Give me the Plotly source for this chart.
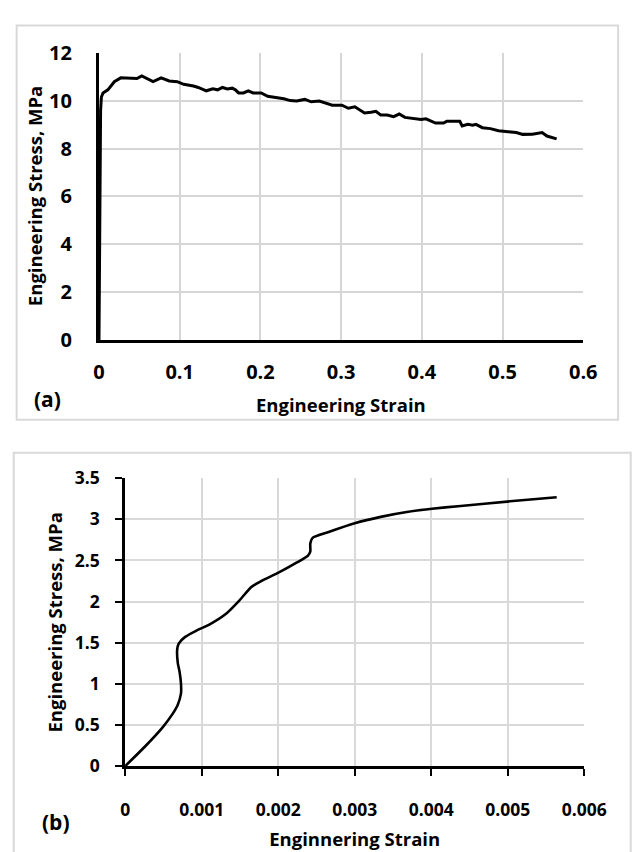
import plotly.graph_objects as go

# (a) full tensile curve
strain_a = [0.0, 0.001, 0.002, 0.003, 0.005, 0.011, 0.019, 0.027, 0.041, 0.047, 0.053,
            0.059, 0.067, 0.077, 0.087, 0.097, 0.105, 0.117, 0.123, 0.133, 0.141,
            0.147, 0.153, 0.159, 0.165, 0.169, 0.173, 0.179, 0.185, 0.191, 0.201,
            0.209, 0.219, 0.229, 0.237, 0.245, 0.255, 0.263, 0.273, 0.281, 0.289,
            0.301, 0.309, 0.317, 0.323, 0.329, 0.337, 0.343, 0.349, 0.357, 0.365,
            0.372, 0.379, 0.389, 0.399, 0.405, 0.417, 0.427, 0.431, 0.447, 0.450,
            0.457, 0.463, 0.467, 0.475, 0.485, 0.495, 0.507, 0.517, 0.525, 0.537,
            0.549, 0.555, 0.567]
stress_a = [0.0, 7.5, 9.6, 10.15, 10.32, 10.45, 10.79, 10.95, 10.95, 10.92, 11.03,
            10.92, 10.79, 10.95, 10.82, 10.79, 10.68, 10.61, 10.55, 10.41, 10.49,
            10.45, 10.55, 10.49, 10.52, 10.45, 10.32, 10.32, 10.41, 10.32, 10.32,
            10.18, 10.14, 10.08, 10.0, 9.98, 10.05, 9.95, 9.98, 9.91, 9.81,
            9.81, 9.68, 9.74, 9.60, 9.48, 9.51, 9.55, 9.40, 9.40, 9.33,
            9.44, 9.30, 9.24, 9.21, 9.24, 9.06, 9.06, 9.14, 9.14, 8.94,
            9.01, 8.97, 9.01, 8.87, 8.83, 8.74, 8.70, 8.67, 8.59, 8.60,
            8.67, 8.52, 8.40]

# (b) initial region of the curve
strain_b = [0.0, 0.000257, 0.00049, 0.000616, 0.000688, 0.00073, 0.00073, 0.000713,
            0.000688, 0.00068, 0.0007, 0.000785, 0.000933, 0.0011, 0.00131, 0.00148,
            0.00165, 0.00178, 0.00201, 0.00224, 0.00239, 0.00242, 0.00242, 0.00245,
            0.00266, 0.003, 0.00334, 0.00368, 0.00401, 0.00435, 0.00503, 0.00564]
stress_b = [0.0, 0.236, 0.472, 0.629, 0.747, 0.884, 1.0, 1.139,
            1.256, 1.413, 1.49, 1.571, 1.648, 1.72, 1.845, 2.0,
            2.178, 2.25, 2.354, 2.472, 2.559, 2.609, 2.707, 2.774,
            2.845, 2.951, 3.029, 3.088, 3.127, 3.159, 3.218, 3.268]

xticks_a = [0, 0.1, 0.2, 0.3, 0.4, 0.5, 0.6]
xlabels_a = ["0", "0.1", "0.2", "0.3", "0.4", "0.5", "0.6"]
yticks_a = [0, 2, 4, 6, 8, 10, 12]
ylabels_a = ["0", "2", "4", "6", "8", "10", "12"]
xticks_b = [0, 0.001, 0.002, 0.003, 0.004, 0.005, 0.006]
xlabels_b = ["0", "0.001", "0.002", "0.003", "0.004", "0.005", "0.006"]
yticks_b = [0, 0.5, 1, 1.5, 2, 2.5, 3, 3.5]
ylabels_b = ["0", "0.5", "1", "1.5", "2", "2.5", "3", "3.5"]

W, H = 636, 852
FONT = "Open Sans"
tick_font = dict(family=FONT, size=20, color="#000000", weight="bold")
tick_font_b = dict(family=FONT, size=17.5, color="#000000", weight="bold")
title_font = dict(family=FONT, size=18.5, color="#000000", weight="bold")
panel_font = dict(family=FONT, size=21, color="#000000", weight="bold")


def px_x(x):
    return x / W


def px_y(y):
    return 1 - y / H


fig = go.Figure()
fig.add_trace(go.Scatter(x=strain_a, y=stress_a, mode="lines",
                         line=dict(color="#000000", width=3),
                         xaxis="x", yaxis="y", showlegend=False))
fig.add_trace(go.Scatter(x=strain_b, y=stress_b, mode="lines",
                         line=dict(color="#000000", width=2.6, shape="spline", smoothing=0.6),
                         xaxis="x2", yaxis="y2", showlegend=False))

grid_a = dict(showgrid=True, gridcolor="#d6d6d6", gridwidth=1.8, zeroline=False)
grid_b = dict(showgrid=True, gridcolor="#d9d9d9", gridwidth=2, zeroline=False)

fig.update_layout(
    width=W, height=H,
    margin=dict(l=0, r=0, t=0, b=0),
    paper_bgcolor="white", plot_bgcolor="white",
    xaxis=dict(domain=[px_x(96), px_x(596)], range=[0, 0.6], anchor="y",
               tickvals=xticks_a, ticktext=xlabels_a, tickfont=tick_font,
               showline=True, linecolor="#000000", linewidth=3,
               ticks="", ticklabelstandoff=12, **grid_a),
    yaxis=dict(domain=[px_y(336.7), px_y(40)], range=[0, 12], anchor="x",
               tickvals=yticks_a, ticktext=ylabels_a, tickfont=tick_font,
               showline=True, linecolor="#000000", linewidth=3,
               ticks="", ticklabelstandoff=20, **grid_a),
    xaxis2=dict(domain=[px_x(123), px_x(597)], range=[0, 0.006], anchor="y2",
                tickvals=xticks_b, ticktext=xlabels_b, tickfont=tick_font_b,
                showline=True, linecolor="#000000", linewidth=2.5,
                ticks="outside", ticklen=7, tickwidth=2, tickcolor="#000000",
                ticklabelstandoff=19, automargin=False,
                title=dict(text="Enginnering Strain", font=title_font, standoff=14),
                **grid_b),
    yaxis2=dict(domain=[px_y(776.8), px_y(479.3)], range=[0, 3.5], anchor="x2",
                tickvals=yticks_b, ticktext=ylabels_b, tickfont=tick_font_b,
                showline=True, linecolor="#000000", linewidth=2.5,
                ticks="outside", ticklen=7, tickwidth=2, tickcolor="#000000",
                ticklabelstandoff=12, **grid_b),
)

# panel frames
fig.add_shape(type="rect", xref="paper", yref="paper",
              x0=px_x(11), x1=px_x(632), y0=px_y(419), y1=px_y(12),
              line=dict(color="#d9d9d9", width=2), layer="below")
fig.add_shape(type="rect", xref="paper", yref="paper",
              x0=px_x(8), x1=px_x(645), y0=px_y(870), y1=px_y(453),
              line=dict(color="#d9d9d9", width=2), layer="below")

labels = [
    ("Engineering Stress, MPa", 29, 188, -90, title_font),
    ("Engineering Strain", 346, 403, 0, title_font),
    ("(a)", 43, 398, 0, panel_font),
    ("Engineering Stress, MPa", 50, 628, -90, title_font),
    ("(b)", 52, 834, 0, panel_font),
]
for text, x, y, ang, f in labels:
    fig.add_annotation(text=text, xref="paper", yref="paper", x=px_x(x), y=px_y(y),
                       xanchor="center", yanchor="middle", textangle=ang,
                       showarrow=False, font=f)

fig.write_html("out.html")
